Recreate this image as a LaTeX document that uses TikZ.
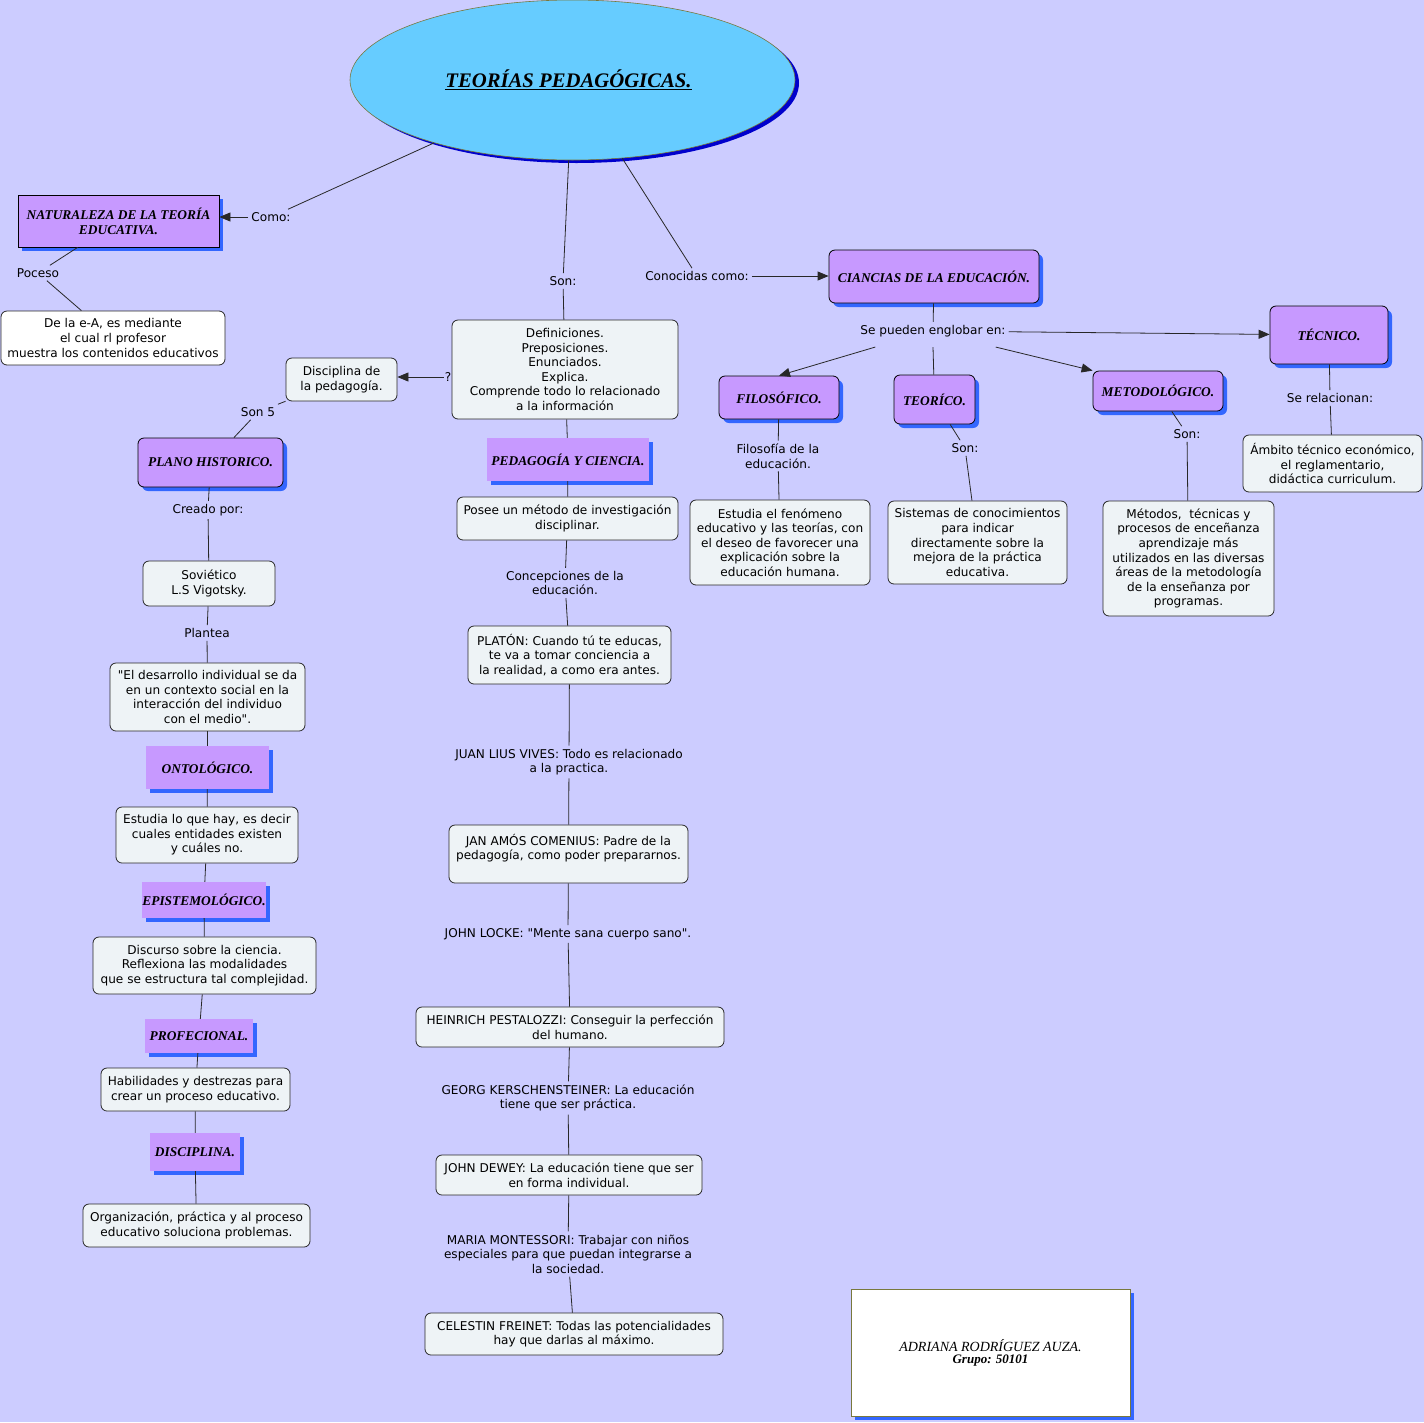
\documentclass[tikz,border=0pt]{standalone}
\usepackage{fontspec}
\setmainfont{Liberation Serif}
\newfontfamily\vfont{DejaVu Sans}
\usetikzlibrary{shapes.geometric,arrows.meta,shadows}
\definecolor{bg}{RGB}{204,204,255}
\definecolor{purp}{RGB}{199,153,255}
\definecolor{shblue}{RGB}{51,102,255}
\definecolor{boxfill}{RGB}{238,243,246}
\definecolor{linec}{RGB}{40,40,40}
\definecolor{ellfill}{RGB}{102,204,255}
\definecolor{ellsh}{RGB}{0,0,204}
\definecolor{olivec}{RGB}{120,120,60}
\newcommand\bodyf{\vfont\fontsize{12.1}{14.6}\selectfont}
\newcommand\headf{\bfseries\itshape\fontsize{13.4}{15}\selectfont}
\tikzset{
  lbl/.style={font=\bodyf, align=center, inner sep=3pt, text=black},
  wbox/.style={draw=linec, fill=boxfill, rounded corners=6pt, font=\bodyf, align=center, inner sep=0pt, line width=0.8pt},
  shad/.style={drop shadow={shadow xshift=4pt, shadow yshift=-4pt, fill=shblue, opacity=1}},
  pbox/.style={shad, draw=black, fill=purp, rounded corners=6pt, font=\headf, align=center, inner sep=0pt, line width=0.8pt},
  sbox/.style={shad, fill=purp, font=\headf, align=center, inner sep=0pt},
  conn/.style={draw=linec, line width=0.8pt},
  arr/.style={conn, -{Triangle[length=11pt,width=9pt]}},
  sz/.style 2 args={minimum width=#1pt, minimum height=#2pt}
}
\begin{document}
\begin{tikzpicture}[x=1pt,y=-1pt]
\fill[bg] (0,0) rectangle (1424,1422);
\useasboundingbox (0,0) rectangle (1424,1422);

% title ellipse
\node[ellipse, sz={445}{160}, fill=ellfill, draw=olivec, line width=0.6pt,
  drop shadow={shadow xshift=4pt, shadow yshift=-3pt, fill=ellsh, opacity=1},
  font=\bfseries\itshape\fontsize{20.7}{24}\selectfont] (ell) at (572.5,80) {\underline{TEORÍAS PEDAGÓGICAS.}\hspace*{8pt}};

% left top
\node[shad, draw=black, fill=purp, font=\headf, align=center, inner sep=0pt, line width=0.8pt, sz={201}{52}] (nat) at (118.5,221) {NATURALEZA DE LA TEORÍA\\EDUCATIVA.};
\node[lbl] (como) at (271,217) {Como:};
\node[lbl] (poceso) at (38,273) {Poceso};
\node[wbox, fill=white, sz={224}{54}] (ea) at (113,338) {De la e-A, es mediante\\el cual rl profesor\\muestra los contenidos educativos};

% center column
\node[lbl] (son1) at (563,281) {Son:};
\node[wbox, sz={226}{99}] (defs) at (565,369.5) {Definiciones.\\Preposiciones.\\Enunciados.\\Explica.\\Comprende todo lo relacionado\\a la información};
\node[lbl, inner sep=1pt] (q) at (448,377) {?};
\node[wbox, sz={111}{43}] (disc) at (341.5,379.5) {Disciplina de\\la pedagogía.};
\node[sbox, sz={162}{43}] (pyc) at (568,459.5) {PEDAGOGÍA Y CIENCIA.};
\node[wbox, sz={221}{43}] (posee) at (567.5,518.5) {Posee un método de investigación\\disciplinar.};
\node[lbl] (concep) at (565,583) {Concepciones de la\\educación.};
\node[wbox, sz={203}{58}] (platon) at (569.5,655) {PLATÓN: Cuando tú te educas,\\te va a tomar conciencia a\\la realidad, a como era antes.};
\node[lbl] (vives) at (569,762) {JUAN LIUS VIVES: Todo es relacionado\\a la practica.};
\node[wbox, sz={239}{58}] (jan) at (568.5,854) {JAN AMÓS COMENIUS: Padre de la\\pedagogía, como poder prepararnos.\\\mbox{}};
\node[lbl] (locke) at (568,934) {JOHN LOCKE: "Mente sana cuerpo sano".};
\node[wbox, sz={308}{40}] (hein) at (570,1027) {HEINRICH PESTALOZZI: Conseguir la perfección\\del humano.};
\node[lbl] (georg) at (568,1098) {GEORG KERSCHENSTEINER: La educación\\tiene que ser práctica.};
\node[wbox, sz={266}{40}] (dewey) at (569,1175) {JOHN DEWEY: La educación tiene que ser\\en forma individual.};
\node[lbl] (monte) at (568,1254) {MARIA MONTESSORI: Trabajar con niños\\especiales para que puedan integrarse a\\la sociedad.};
\node[wbox, sz={298}{42}] (frein) at (574,1334) {CELESTIN FREINET: Todas las potencialidades\\hay que darlas al máximo.};

% left column
\node[lbl] (son5) at (258,412) {Son 5};
\node[pbox, sz={145}{49}] (plano) at (210.5,462.5) {PLANO HISTORICO.};
\node[lbl] (creado) at (208,510) {Creado por:};
\node[wbox, sz={132}{45}] (sov) at (209,583.5) {Soviético\\L.S Vigotsky.};
\node[lbl] (plantea) at (207,633) {Plantea};
\node[wbox, sz={195}{68}] (quote) at (207.5,697) {"El desarrollo individual se da\\en un contexto social en la\\interacción del individuo\\con el medio".};
\node[sbox, sz={123}{43}] (onto) at (207.5,767.5) {ONTOLÓGICO.};
\node[wbox, sz={182}{56}] (hay) at (207,835) {Estudia lo que hay, es decir\\cuales entidades existen\\y cuáles no.};
\node[sbox, sz={124}{36}] (epis) at (204,900) {EPISTEMOLÓGICO.};
\node[wbox, sz={223}{57}] (discur) at (204.5,965.5) {Discurso sobre la ciencia.\\Reflexiona las modalidades\\que se estructura tal complejidad.};
\node[sbox, sz={108}{34}] (prof) at (199,1036) {PROFECIONAL.};
\node[wbox, sz={189}{43}] (habil) at (195.5,1089.5) {Habilidades y destrezas para\\crear un proceso educativo.};
\node[sbox, sz={90}{38}] (discipl) at (195,1152) {DISCIPLINA.};
\node[wbox, sz={227}{43}] (org) at (196.5,1225.5) {Organización, práctica y al proceso\\educativo soluciona problemas.};

% right part
\node[lbl] (conoc) at (697,276) {Conocidas como:};
\node[pbox, sz={210}{53}] (cien) at (934,276.5) {CIANCIAS DE LA EDUCACIÓN.};
\node[lbl] (eng) at (933,331) {Se pueden englobar en:};
\node[pbox, sz={118}{58}] (tec) at (1329,335) {TÉCNICO.};
\node[pbox, sz={120}{43}] (filo) at (779,397.5) {FILOSÓFICO.};
\node[pbox, sz={81}{49}] (teor) at (934.5,399.5) {TEORÍCO.};
\node[pbox, sz={130}{40}] (meto) at (1158,391) {METODOLÓGICO.};
\node[lbl] (filoed) at (778,456) {Filosofía de la\\educación.};
\node[wbox, sz={180}{85}] (estudia) at (780,542.5) {Estudia el fenómeno\\educativo y las teorías, con\\el deseo de favorecer una\\explicación sobre la\\educación humana.};
\node[lbl] (son2) at (965,448) {Son:};
\node[wbox, sz={179}{83}] (sist) at (977.5,542.5) {Sistemas de conocimientos\\para indicar\\directamente sobre la\\mejora de la práctica\\educativa.};
\node[lbl] (son3) at (1187,434) {Son:};
\node[wbox, sz={171}{115}] (metodos) at (1188.5,558.5) {Métodos,\ \ técnicas y\\procesos de enceñanza\\aprendizaje más\\utilizados en las diversas\\áreas de la metodología\\de la enseñanza por\\programas.};
\node[lbl] (serel) at (1330,398) {Se relacionan:};
\node[wbox, sz={179}{57}] (ambito) at (1332.5,463.5) {Ámbito técnico económico,\\el reglamentario,\\didáctica curriculum.};

% author box
\node[shad, draw=olivec, fill=white, line width=0.8pt, sz={279}{127}, align=center, inner sep=0pt] (adri) at (990.5,1352.5)
  {{\itshape\fontsize{14}{15}\selectfont ADRIANA RODRÍGUEZ AUZA.}\\{\bfseries\itshape\fontsize{13}{15}\selectfont Grupo: 50101}};

% connectors
\draw[conn] (ell) -- (como);
\draw[arr] (como) -- (como -| nat.east);
\draw[conn] (nat) -- (poceso);
\draw[conn] (poceso) -- (ea);
\draw[conn] (ell) -- (son1);
\draw[conn] (son1) -- (defs);
\draw[arr] (q) -- (q -| disc.east);
\draw[conn] (disc) -- (son5);
\draw[conn] (son5) -- (plano);
\draw[conn] (plano) -- (creado);
\draw[conn] (creado) -- (sov);
\draw[conn] (sov) -- (plantea);
\draw[conn] (plantea) -- (quote);
\draw[conn] (quote) -- (onto);
\draw[conn] (onto) -- (hay);
\draw[conn] (hay) -- (epis);
\draw[conn] (epis) -- (discur);
\draw[conn] (discur) -- (prof);
\draw[conn] (prof) -- (habil);
\draw[conn] (habil) -- (discipl);
\draw[conn] (discipl) -- (org);
\draw[conn] (defs) -- (pyc);
\draw[conn] (pyc) -- (posee);
\draw[conn] (posee) -- (concep);
\draw[conn] (concep) -- (platon);
\draw[conn] (platon) -- (vives);
\draw[conn] (vives) -- (jan);
\draw[conn] (jan) -- (locke);
\draw[conn] (locke) -- (hein);
\draw[conn] (hein) -- (georg);
\draw[conn] (georg) -- (dewey);
\draw[conn] (dewey) -- (monte);
\draw[conn] (monte) -- (frein);
\draw[conn] (ell) -- (conoc);
\draw[arr] (conoc) -- (conoc -| cien.west);
\draw[conn] (cien) -- (eng);
\draw[arr] (eng) -- (tec);
\draw[arr] ([xshift=18pt,yshift=-7pt]eng.south west) -- (filo.north);
\draw[conn] ([yshift=-7pt]eng.south) -- (teor);
\draw[arr] ([xshift=-13pt,yshift=-7pt]eng.south east) -- (meto.north west);
\draw[conn] (filo) -- (filoed);
\draw[conn] (filoed) -- (estudia);
\draw[conn] (teor) -- (son2);
\draw[conn] (son2) -- (sist);
\draw[conn] (meto) -- (son3);
\draw[conn] (son3) -- (metodos);
\draw[conn] (tec) -- (serel);
\draw[conn] (serel) -- (ambito);
\end{tikzpicture}
\end{document}
